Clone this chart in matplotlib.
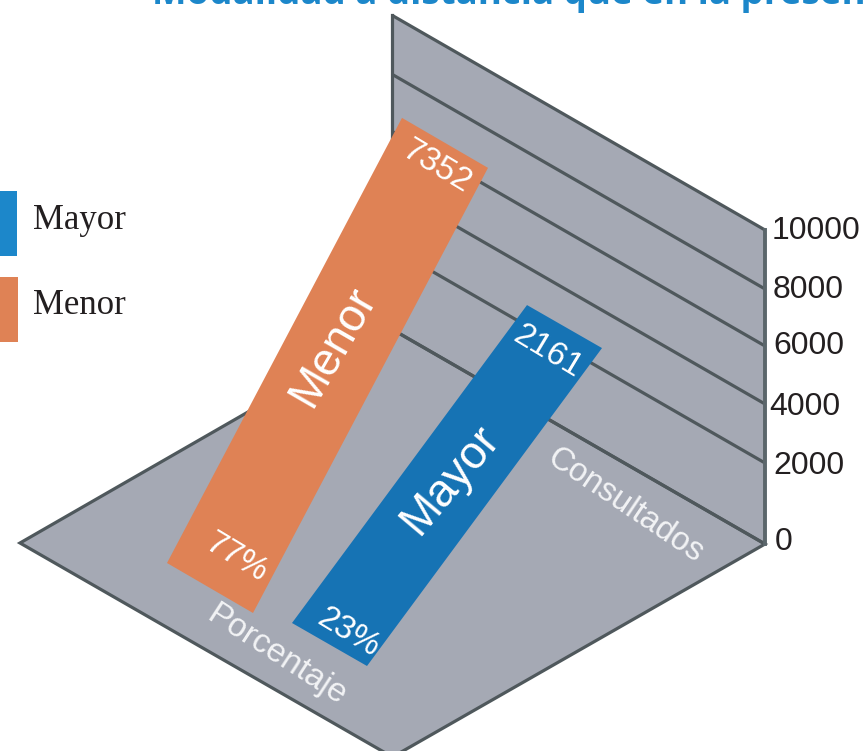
import numpy as np
import matplotlib
matplotlib.use('Agg')
import matplotlib.pyplot as plt
from matplotlib.patches import Polygon, Rectangle

# Datos del grafico
categorias = ['Menor', 'Mayor']
consultados = [7352, 2161]
porcentajes = [77, 23]
ticks_muro = [0, 2000, 4000, 6000, 8000, 10000]

# Posiciones en pixeles de la imagen
y_ticks_der = [544, 463, 404, 346, 289, 230]
y_etiquetas = [542, 466, 407, 346, 290, 231]
x_etiquetas = [775, 773, 769, 773, 773, 772]
x_izq, x_der = 392, 765
pendiente = 0.5757
base_barra = [(167, 563), (292, 623)]
ancho_barra = [(86, 50), (75, 43)]
pos_nombre = [(333, 347), (450, 480)]
rot_nombre = [60, 50]
pos_valor = [(436, 167), (548, 352)]
pos_pct = [(236, 558), (348, 633)]

GRIS = '#A5A9B4'
LINEA = '#4F585C'
NARANJA = '#DF8255'
AZUL = '#1673B4'
AZUL_LEY = '#1C87CA'
NEGRO = '#231F20'
CLARO = '#F2F3F5'
SANS = 'Liberation Sans'
SERIF = 'Liberation Serif'


def largo_barra(valor):
    # la barra sube por el piso y por el muro
    return 265 + valor * 0.0245


fig = plt.figure(figsize=(8.65, 7.51), dpi=100)
ax = fig.add_axes([0, 0, 1, 1])
ax.set_xlim(0, 865)
ax.set_ylim(751, 0)
ax.axis('off')

# Muro y piso
y0_der = y_ticks_der[0]
y0_izq = y0_der - (x_der - x_izq) * pendiente
ytop_der = y_ticks_der[-1]
ytop_izq = ytop_der - (x_der - x_izq) * pendiente
ax.add_patch(Polygon([(x_izq, ytop_izq), (x_der, ytop_der), (x_der, y0_der), (x_izq, y0_izq)],
                     fc=GRIS, ec='none', zorder=1))
piso = [(20, 543), (x_izq, y0_izq), (x_der, y0_der), (392.5, 757)]
ax.add_patch(Polygon(piso, fc=GRIS, ec=LINEA, lw=2.3, joinstyle='miter', zorder=1))

# Lineas de la grilla y etiquetas del eje
for t, y, ye, xe in zip(ticks_muro, y_ticks_der, y_etiquetas, x_etiquetas):
    ax.plot([x_izq, x_der], [y - (x_der - x_izq) * pendiente, y], color=LINEA, lw=2.3,
            solid_capstyle='butt', zorder=2)
    ax.text(xe, ye, str(t), family=SANS, fontsize=23, color=NEGRO, ha='left', va='center')
ax.plot([x_izq, x_izq], [ytop_izq, y0_izq], color=LINEA, lw=2.3, zorder=2)
ax.plot([x_der, x_der], [ytop_der, y0_der], color='#5B666B', lw=2.8, zorder=2)

# Barras
colores = [NARANJA, AZUL]
for i in range(len(categorias)):
    x0, y0 = base_barra[i]
    dx, dy = ancho_barra[i]
    largo = largo_barra(consultados[i])
    ax.add_patch(Polygon([(x0, y0), (x0 + dx, y0 + dy), (x0 + dx + 235, y0 + dy - largo),
                          (x0 + 235, y0 - largo)], fc=colores[i], ec='none', zorder=3))
    ax.text(*pos_nombre[i], categorias[i], family=SANS, fontsize=33, color='white', rotation=rot_nombre[i],
            rotation_mode='anchor', ha='center', va='center', zorder=4)
    ax.text(*pos_valor[i], str(consultados[i]), family=SANS, fontsize=24, color='white', rotation=-31,
            rotation_mode='anchor', ha='center', va='center', zorder=4)
    ax.text(*pos_pct[i], str(porcentajes[i]) + '%', family=SANS, fontsize=24, color='white', rotation=-31,
            rotation_mode='anchor', ha='center', va='center', zorder=4)

ax.text(276, 655, 'Porcentaje', family=SANS, fontsize=24, color=CLARO, rotation=-33,
        rotation_mode='anchor', ha='center', va='center', zorder=4)
ax.text(625, 506, 'Consultados', family=SANS, fontsize=23.5, color=CLARO, rotation=-34,
        rotation_mode='anchor', ha='center', va='center', zorder=4)

# Leyenda
ax.add_patch(Rectangle((0, 191), 17, 65, fc=AZUL_LEY, ec='none'))
ax.add_patch(Rectangle((0, 277), 18, 65, fc=NARANJA, ec='none'))
ax.text(33, 229, 'Mayor', family=SERIF, fontsize=25, color=NEGRO, va='baseline')
ax.text(33, 314, 'Menor', family=SERIF, fontsize=25, color=NEGRO, va='baseline')

# Titulo cortado por el borde superior
ax.text(152, 4, 'Modalidad a distancia que en la presencialidad', family='Open Sans', fontweight='bold',
        fontsize=26.5, color=AZUL_LEY, va='baseline', clip_on=False)

fig.savefig('out.png', dpi=100)
